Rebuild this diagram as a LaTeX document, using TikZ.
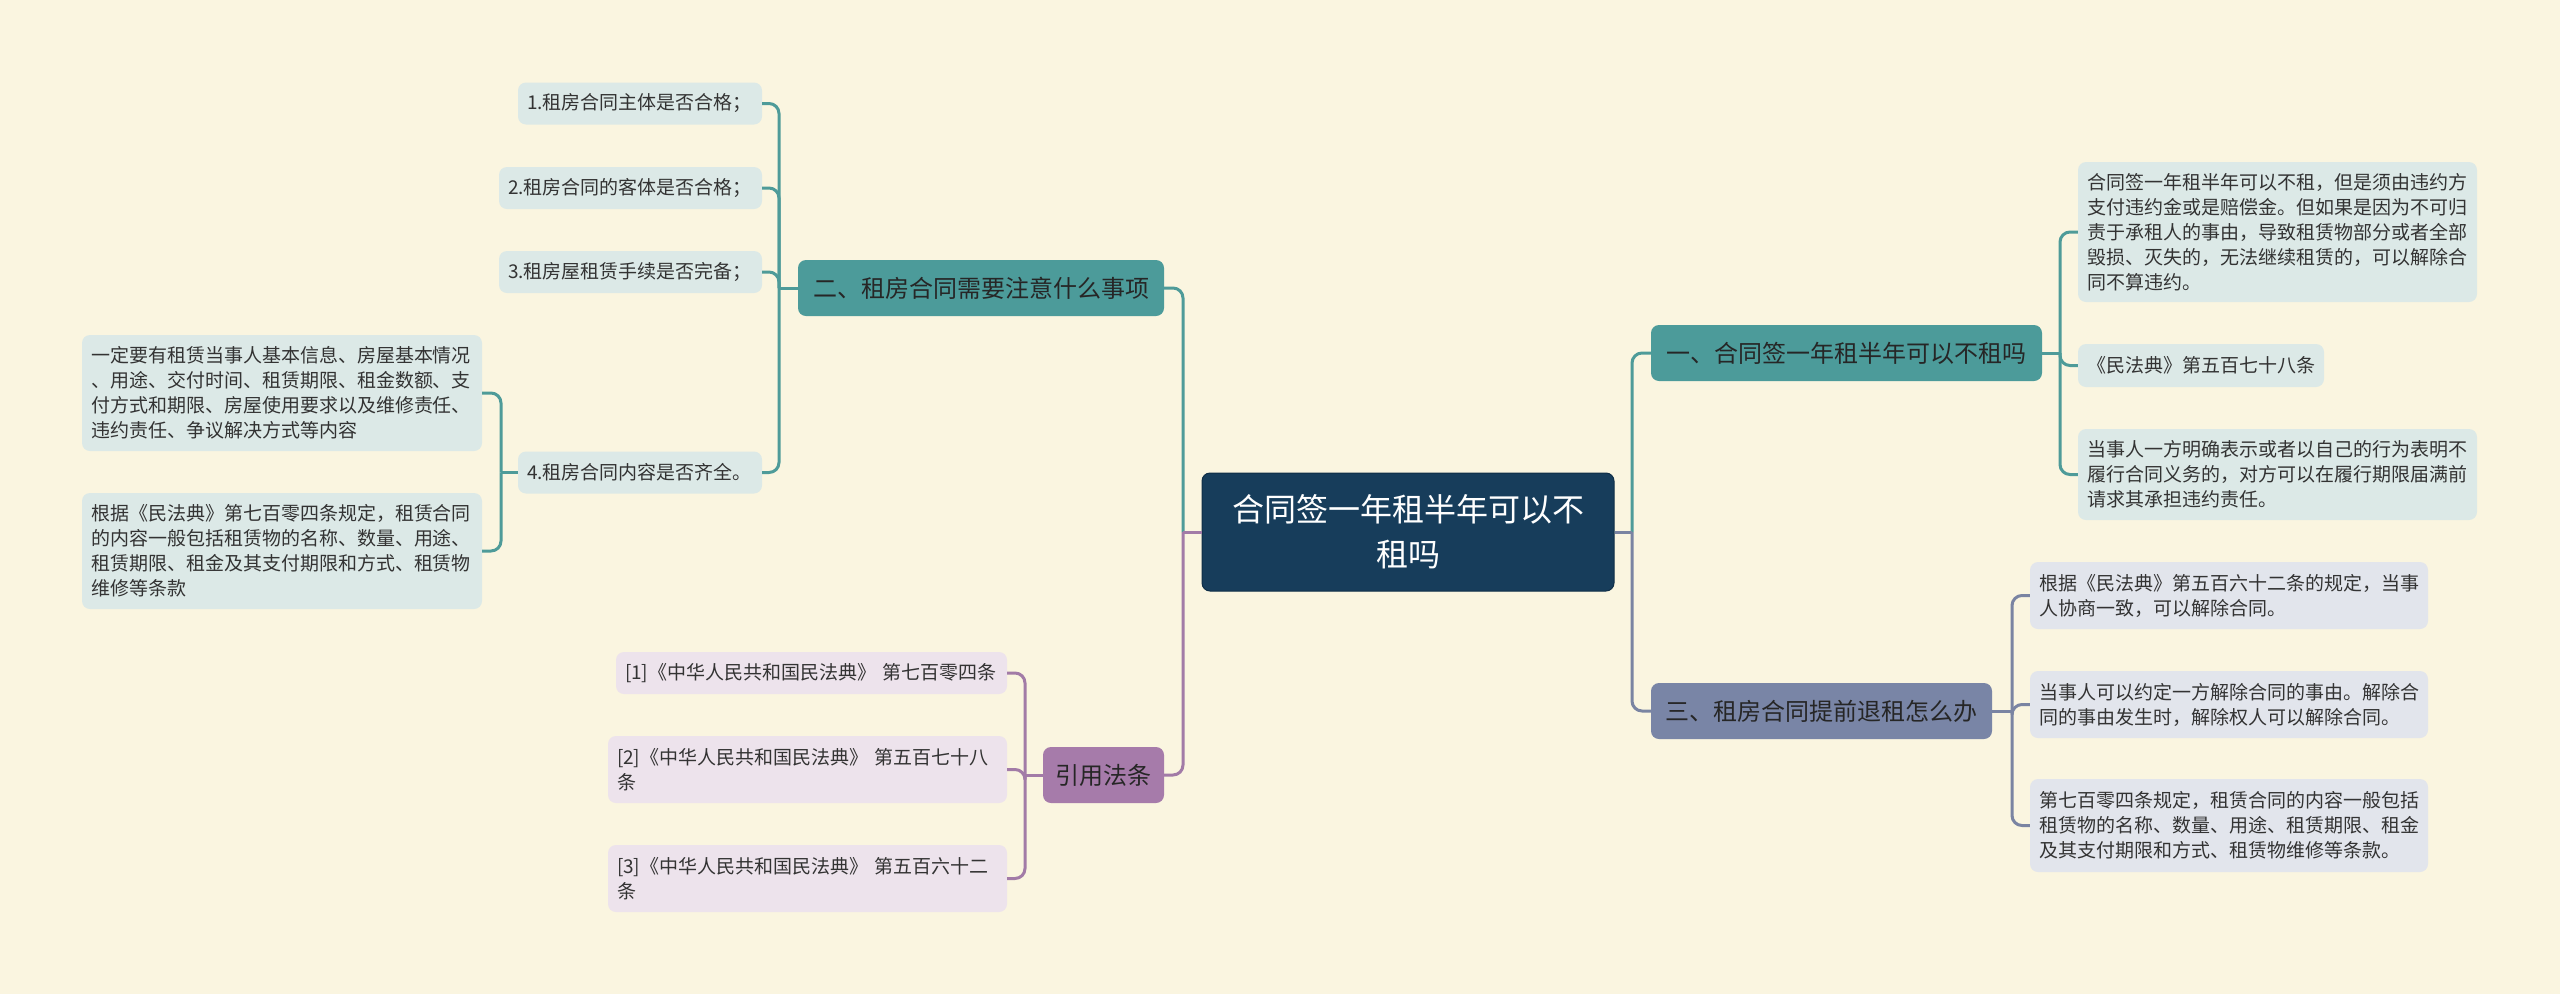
\documentclass[tikz,border=0pt]{standalone}
\usepackage{fontspec}
\setmainfont{Noto Sans CJK SC}
\definecolor{bgc}{HTML}{FAF5E0}
\definecolor{cfill}{HTML}{173D5B}
\definecolor{cdraw}{HTML}{0F2E47}
\definecolor{tealB}{HTML}{4C9B9A}
\definecolor{tealL}{HTML}{4E9B99}
\definecolor{tealF}{HTML}{DCE9E7}
\definecolor{purB}{HTML}{A67BAA}
\definecolor{purL}{HTML}{A27BA7}
\definecolor{purF}{HTML}{EDE3EC}
\definecolor{slaB}{HTML}{7985A6}
\definecolor{slaL}{HTML}{7A84A2}
\definecolor{slaF}{HTML}{E2E5EC}
\definecolor{btext}{HTML}{262626}
\definecolor{ltext}{HTML}{333333}
\begin{document}
\begin{tikzpicture}[x=1pt,y=-1pt,
  centerbox/.style={fill=cfill, draw=cdraw, line width=1pt, rounded corners=8pt, minimum width=412pt, minimum height=118pt, inner sep=0pt, align=center, font=\fontsize{32}{45}\selectfont, text=white},
  branch/.style={rounded corners=8pt, inner sep=0pt, font=\fontsize{24}{30}\selectfont, text=btext},
  leaf/.style={rounded corners=8pt, inner xsep=9pt, inner ysep=0pt, align=left, font=\fontsize{19}{25}\selectfont, text=ltext},
  sz/.style n args={3}{minimum width=#1pt, text width=#2pt, minimum height=#3pt},
  bsz/.style n args={2}{minimum width=#1pt, minimum height=#2pt},
  link/.style={line width=3pt},
  rc/.style={rounded corners=10pt}
]
\fill[bgc] (0,0) rectangle (2560,994);
\useasboundingbox (0,0) rectangle (2560,994);

% center
\node[centerbox] (C) at (1408,532) {合同签一年租半年可以不\\租吗};

% branches
\node[branch, fill=tealB, bsz={366}{56}] (B2) at (981,288) {二、租房合同需要注意什么事项};
\node[branch, fill=purB, bsz={121}{56}] (BP) at (1103.5,775) {引用法条};
\node[branch, fill=tealB, bsz={391}{56}] (B1) at (1846.5,353) {一、合同签一年租半年可以不租吗};
\node[branch, fill=slaB, bsz={341}{56}] (B3) at (1821.5,711) {三、租房合同提前退租怎么办};

% left teal leaves
\node[leaf, fill=tealF, sz={244}{226}{42}] (L1) at (640,103.5) {1.租房合同主体是否合格；};
\node[leaf, fill=tealF, sz={263}{245}{42}] (L2) at (630.5,188) {2.租房合同的客体是否合格；};
\node[leaf, fill=tealF, sz={263}{245}{42}] (L3) at (630.5,272) {3.租房屋租赁手续是否完备；};
\node[leaf, fill=tealF, sz={244}{226}{42}] (L4) at (640,472.5) {4.租房合同内容是否齐全。};
\node[leaf, fill=tealF, sz={400}{382}{116}] (SA) at (282,393) {一定要有租赁当事人基本信息、房屋基本情况\\、用途、交付时间、租赁期限、租金数额、支\\付方式和期限、房屋使用要求以及维修责任、\\违约责任、争议解决方式等内容};
\node[leaf, fill=tealF, sz={400}{382}{116}] (SB) at (282,551) {根据《民法典》第七百零四条规定，租赁合同\\的内容一般包括租赁物的名称、数量、用途、\\租赁期限、租金及其支付期限和方式、租赁物\\维修等条款};

% purple leaves
\node[leaf, fill=purF, sz={391}{373}{42}] (RF1) at (811.5,673) {[1]《中华人民共和国民法典》 第七百零四条};
\node[leaf, fill=purF, sz={399}{381}{67}] (RF2) at (807.5,769.5) {[2]《中华人民共和国民法典》 第五百七十八\\条};
\node[leaf, fill=purF, sz={399}{381}{67}] (RF3) at (807.5,878.5) {[3]《中华人民共和国民法典》 第五百六十二\\条};

% right teal leaves
\node[leaf, fill=tealF, sz={399}{381}{140}] (R1a) at (2277.5,232) {合同签一年租半年可以不租，但是须由违约方\\支付违约金或是赔偿金。但如果是因为不可归\\责于承租人的事由，导致租赁物部分或者全部\\毁损、灭失的，无法继续租赁的，可以解除合\\同不算违约。};
\node[leaf, fill=tealF, sz={246}{228}{43}] (R1b) at (2201,365.5) {《民法典》第五百七十八条};
\node[leaf, fill=tealF, sz={399}{381}{91}] (R1c) at (2277.5,474.5) {当事人一方明确表示或者以自己的行为表明不\\履行合同义务的，对方可以在履行期限届满前\\请求其承担违约责任。};

% slate leaves
\node[leaf, fill=slaF, sz={398}{380}{67}] (R3a) at (2229,595.5) {根据《民法典》第五百六十二条的规定，当事\\人协商一致，可以解除合同。};
\node[leaf, fill=slaF, sz={398}{380}{67}] (R3b) at (2229,704.5) {当事人可以约定一方解除合同的事由。解除合\\同的事由发生时，解除权人可以解除合同。};
\node[leaf, fill=slaF, sz={398}{380}{93}] (R3c) at (2229,825.5) {第七百零四条规定，租赁合同的内容一般包括\\租赁物的名称、数量、用途、租赁期限、租金\\及其支付期限和方式、租赁物维修等条款。};

% trunk coordinates
\coordinate (tL) at (1183,532);
\coordinate (tR) at (1632,532);
\coordinate (t2) at (779,288);
\coordinate (t4) at (501,472.5);
\coordinate (tP) at (1025,775);
\coordinate (t1) at (2060,353);
\coordinate (t3) at (2012,711);

% center connectors
\draw[link, tealL] (C.west) -- (tL);
\draw[link, tealL, rc] (tL) |- (B2.east);
\draw[link, purL] (C.west) -- (tL);
\draw[link, purL, rc] (tL) |- (BP.east);
\draw[link, tealL] (C.east) -- (tR);
\draw[link, tealL, rc] (tR) |- (B1.west);
\draw[link, slaL] (C.east) -- (tR);
\draw[link, slaL, rc] (tR) |- (B3.west);

% B2 connectors
\draw[link, tealL] (B2.west) -- (t2);
\draw[link, tealL, rc] (t2) |- (L1.east);
\draw[link, tealL, rc] (t2) |- (L2.east);
\draw[link, tealL, rc] (t2) |- (L3.east);
\draw[link, tealL, rc] (t2) |- (L4.east);

% L4 connectors
\draw[link, tealL] (L4.west) -- (t4);
\draw[link, tealL, rc] (t4) |- (SA.east);
\draw[link, tealL, rc] (t4) |- (SB.east);

% BP connectors
\draw[link, purL] (BP.west) -- (tP);
\draw[link, purL, rc] (tP) |- (RF1.east);
\draw[link, purL, rc] (tP) |- (RF2.east);
\draw[link, purL, rc] (tP) |- (RF3.east);

% B1 connectors
\draw[link, tealL] (B1.east) -- (t1);
\draw[link, tealL, rc] (t1) |- (R1a.west);
\draw[link, tealL, rc] (t1) |- (R1b.west);
\draw[link, tealL, rc] (t1) |- (R1c.west);

% B3 connectors
\draw[link, slaL] (B3.east) -- (t3);
\draw[link, slaL, rc] (t3) |- (R3a.west);
\draw[link, slaL, rc] (t3) |- (R3b.west);
\draw[link, slaL, rc] (t3) |- (R3c.west);
\end{tikzpicture}
\end{document}
